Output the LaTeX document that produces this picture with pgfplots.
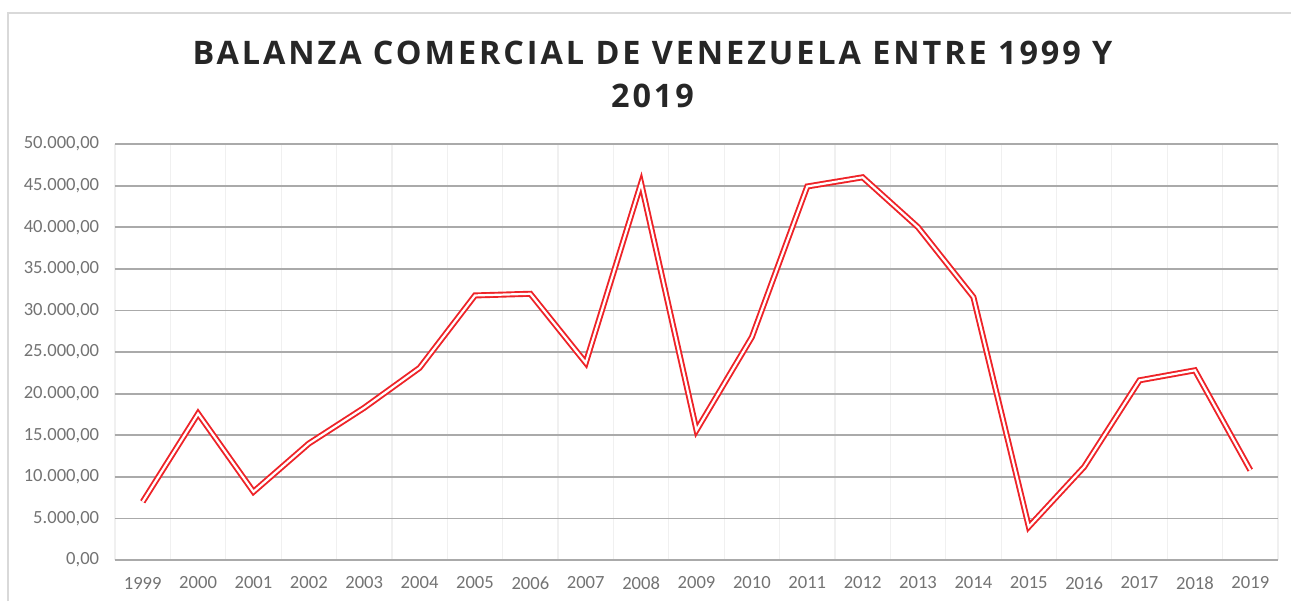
\documentclass[border=0pt]{standalone}
\usepackage{pgfplots}
\pgfplotsset{compat=1.18}
\usepackage{fontspec}
\setmainfont{Carlito}
\newfontfamily\titlefont[LetterSpace=9]{Open Sans}

\definecolor{lineRed}{RGB}{238,35,40}
\definecolor{gridGray}{RGB}{170,170,170}
\definecolor{gridLight}{RGB}{240,240,240}
\definecolor{baseGray}{RGB}{217,217,217}
\definecolor{labelGray}{RGB}{115,115,115}
\definecolor{frameGray}{RGB}{217,217,217}

\begin{document}
\begin{tikzpicture}
% 1 px of the reference = 0.5pt
\useasboundingbox (0,0) rectangle (645.5pt,-300.5pt);
\draw[frameGray, line width=0.6pt] (4pt,-300.5pt) -- (4pt,-6.5pt) -- (645.5pt,-6.5pt);

\node[anchor=base, font=\titlefont\bfseries\fontsize{16.2}{18}\selectfont, text=black!85]
  at (326.25pt,-32pt) {BALANZA COMERCIAL DE VENEZUELA ENTRE 1999 Y};
\node[anchor=base, font=\titlefont\bfseries\fontsize{16.2}{18}\selectfont, text=black!85]
  at (326.25pt,-53.5pt) {2019};

\begin{axis}[
  at={(57.5pt,-280pt)}, anchor=south west,
  scale only axis,
  width=581.5pt, height=208pt,
  xmin=-0.5, xmax=20.5,
  ymin=0, ymax=50000,
  scaled y ticks=false,
  axis line style={draw=none},
  major tick length=0pt,
  minor tick length=0pt,
  xtick={0,...,20},
  xticklabels={1999,2000,2001,2002,2003,2004,2005,2006,2007,2008,2009,2010,2011,2012,2013,2014,2015,2016,2017,2018,2019},
  minor xtick={-0.5,0.5,...,20.5},
  xminorgrids=true,
  minor grid style={gridLight, line width=0.6pt},
  ytick={5000,10000,...,50000},
  yticklabels={{5.000,00},{10.000,00},{15.000,00},{20.000,00},{25.000,00},{30.000,00},{35.000,00},{40.000,00},{45.000,00},{50.000,00}},
  extra y ticks={0},
  extra y tick labels={0{,}00},
  extra y tick style={grid style={baseGray, line width=0.8pt}},
  ymajorgrids=true,
  major grid style={gridGray, line width=0.9pt},
  tick label style={font=\fontsize{9.3}{11}\selectfont, text=labelGray},
  xticklabel style={anchor=center, yshift=-11.5pt},
  yticklabel style={anchor=east, xshift=-4.4pt},
  clip=false,
]
\addplot[draw=lineRed, line width=0.95pt, double=white, double distance=1.1pt]
coordinates {
  (0,7000)(1,17600)(2,8200)(3,14000)(4,18300)(5,23100)(6,31800)(7,32000)
  (8,23700)(9,45300)(10,15600)(11,26800)(12,44900)(13,46000)(14,40000)
  (15,31600)(16,4000)(17,11200)(18,21600)(19,22800)(20,10800)
};
\end{axis}
\end{tikzpicture}
\end{document}
